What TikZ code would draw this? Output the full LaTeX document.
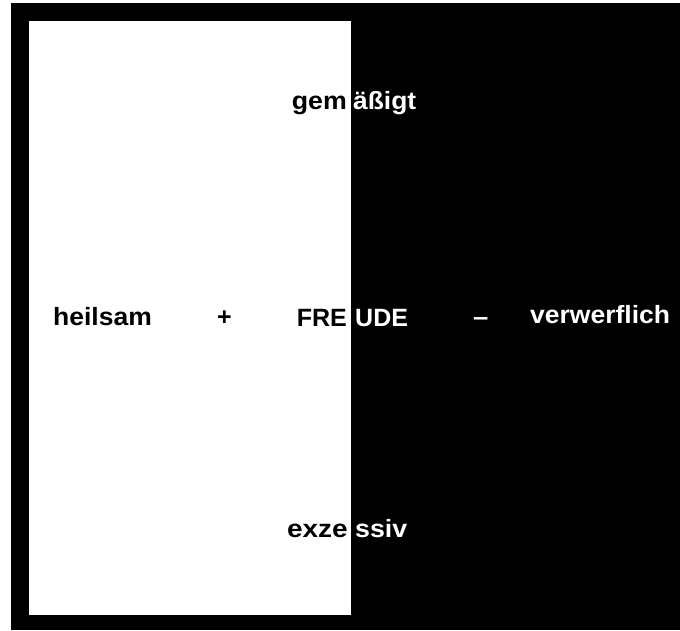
\documentclass[tikz,border=0pt]{standalone}
\usepackage{fontspec}
\setmainfont{Liberation Sans}
\begin{document}
\begin{tikzpicture}[x=1pt,y=-1pt,
  lbl/.style={inner sep=0pt, font=\fontsize{25}{30}\selectfont\bfseries},
  onwhite/.style={lbl, text=black},
  onblack/.style={lbl, text=white}]
\useasboundingbox (0,0) rectangle (680,630);
% dark field and the light panel
\fill[white] (0,0) rectangle (680,630);
\fill[black] (11,3) rectangle (680,630);
\fill[white] (29,21) rectangle (351,615);
% a word stretched sideways
\newcommand\wide[2]{\scalebox{#1}[1]{#2}}
% words on the light panel
\node[onwhite, anchor=base east] (gemL)  at (347,109) {\wide{1.07}{gem}};
\node[onwhite, anchor=base west] (heil)  at (53,325)  {\wide{1.06}{heilsam}};
\node[onwhite, anchor=base west] (plus)  at (217,325) {+};
\node[onwhite, anchor=base east] (freuL) at (347,326) {FRE};
\node[onwhite, anchor=base east] (exzL)  at (348,537) {\wide{1.12}{exze}};
% words on the dark field
\node[onblack, anchor=base west] (gemR)  at (353,109) {\wide{1.055}{äßigt}};
\node[onblack, anchor=base west] (freuR) at (355,326) {UDE};
\node[onblack, anchor=base west] (minus) at (473,325) {\wide{1.1}{–}};
\node[onblack, anchor=base west] (verw)  at (530,323) {\wide{1.06}{verwerflich}};
\node[onblack, anchor=base west] (exzR)  at (355,537) {\wide{1.07}{ssiv}};
\end{tikzpicture}
\end{document}
